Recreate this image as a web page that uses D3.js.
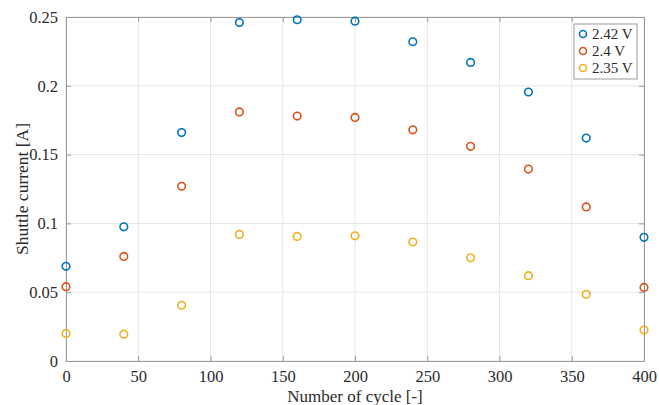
<!DOCTYPE html>
<html>
<head>
<meta charset="utf-8">
<script src="https://cdn.jsdelivr.net/npm/d3@7"></script>
<style>
  body { margin: 0; background: #fff; }
  text { font-family: "Liberation Serif", "Times New Roman", serif; }
</style>
</head>
<body>
<svg></svg>
<script>
// data
var cycles = [0, 40, 80, 120, 160, 200, 240, 280, 320, 360, 400];
var seriesNames = ["2.42 V", "2.4 V", "2.35 V"];
var v242 = [0.0688, 0.0975, 0.166, 0.246, 0.248, 0.247, 0.232, 0.217, 0.1955, 0.162, 0.0899];
var v240 = [0.054, 0.076, 0.127, 0.181, 0.178, 0.177, 0.168, 0.156, 0.1395, 0.112, 0.0535];
var v235 = [0.020, 0.0195, 0.0405, 0.092, 0.0905, 0.091, 0.0865, 0.075, 0.062, 0.0485, 0.0225];
var xTicks = [0, 50, 100, 150, 200, 250, 300, 350, 400];
var yTicks = [0, 0.05, 0.1, 0.15, 0.2, 0.25];

var colors = ["#0072BD", "#D95319", "#EDB120"];
var allSeries = [v242, v240, v235];

var width = 659, height = 405;
var margin = { top: 17, right: 15, bottom: 44, left: 66 };

var svg = d3.select("svg").attr("width", width).attr("height", height);

var x = d3.scaleLinear().domain([0, 400]).range([margin.left, width - margin.right]);
var y = d3.scaleLinear().domain([0, 0.25]).range([height - margin.bottom, margin.top]);

// grid
svg.append("g").selectAll("line").data(xTicks).enter().append("line")
  .attr("x1", function (d) { return x(d); }).attr("x2", function (d) { return x(d); })
  .attr("y1", y(0)).attr("y2", y(0.25))
  .attr("stroke", "#e6e6e6").attr("stroke-width", 1);
svg.append("g").selectAll("line").data(yTicks).enter().append("line")
  .attr("y1", function (d) { return y(d); }).attr("y2", function (d) { return y(d); })
  .attr("x1", x(0)).attr("x2", x(400))
  .attr("stroke", "#e6e6e6").attr("stroke-width", 1);

// axes, ticks pointing inward
var fmt = function (d) { return d3.format("")(+d.toFixed(2)); };
svg.append("g").attr("transform", "translate(0," + y(0) + ")")
  .call(d3.axisBottom(x).tickValues(xTicks).tickSizeInner(-5).tickSizeOuter(0).tickPadding(9));
svg.append("g").attr("transform", "translate(" + x(0) + ",0)")
  .call(d3.axisLeft(y).tickValues(yTicks).tickFormat(fmt).tickSizeInner(-5).tickSizeOuter(0).tickPadding(8));
svg.append("g").attr("transform", "translate(0," + y(0.25) + ")")
  .call(d3.axisTop(x).tickValues(xTicks).tickFormat("").tickSizeInner(-5).tickSizeOuter(0));
svg.append("g").attr("transform", "translate(" + x(400) + ",0)")
  .call(d3.axisRight(y).tickValues(yTicks).tickFormat("").tickSizeInner(-5).tickSizeOuter(0));

svg.selectAll(".domain").attr("stroke", "#9a9a9a");
svg.selectAll(".tick line").attr("stroke", "#9a9a9a");
svg.selectAll(".tick text").attr("font-size", 16.5).attr("fill", "#2b2b2b")
  .style("font-family", "'Liberation Serif', serif");

// points
allSeries.forEach(function (vals, i) {
  svg.append("g").selectAll("circle").data(vals).enter().append("circle")
    .attr("cx", function (d, j) { return x(cycles[j]); })
    .attr("cy", function (d) { return y(d); })
    .attr("r", 3.8)
    .attr("fill", "none")
    .attr("stroke", colors[i])
    .attr("stroke-width", 1.6);
});

// axis labels
svg.append("text").attr("x", (x(0) + x(400)) / 2).attr("y", 402)
  .attr("text-anchor", "middle").attr("font-size", 17).attr("fill", "#2b2b2b")
  .text("Number of cycle [-]");
svg.append("text").attr("transform", "translate(28," + y(0.125) + ") rotate(-90)")
  .attr("text-anchor", "middle").attr("font-size", 17.5).attr("fill", "#2b2b2b")
  .text("Shuttle current [A]");

// legend
var lg = svg.append("g").attr("transform", "translate(574,24)");
lg.append("rect").attr("width", 63).attr("height", 55)
  .attr("fill", "#fff").attr("stroke", "#9a9a9a").attr("stroke-width", 1);
seriesNames.forEach(function (name, i) {
  lg.append("circle").attr("cx", 9).attr("cy", 10 + i * 17).attr("r", 3.5)
    .attr("fill", "none").attr("stroke", colors[i]).attr("stroke-width", 1.6);
  lg.append("text").attr("x", 18).attr("y", 15 + i * 17)
    .attr("font-size", 15).attr("fill", "#2b2b2b").text(name);
});
</script>
</body>
</html>
